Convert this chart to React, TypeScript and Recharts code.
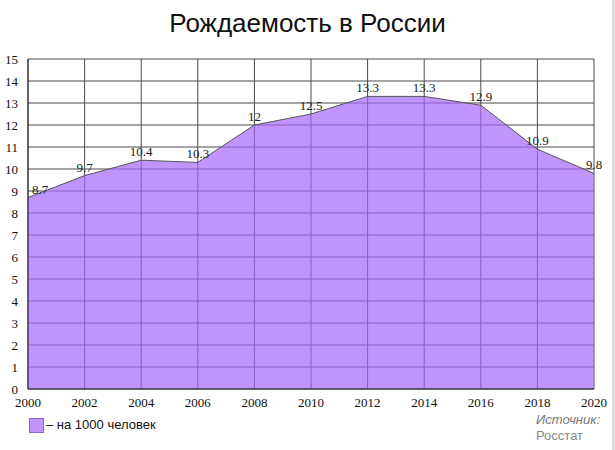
import React from 'react';
import { AreaChart, Area, XAxis, YAxis, CartesianGrid, LabelList } from 'recharts';

const years = ['2000', '2002', '2004', '2006', '2008', '2010', '2012', '2014', '2016', '2018', '2020'];
const birthRate = [8.7, 9.7, 10.4, 10.3, 12, 12.5, 13.3, 13.3, 12.9, 10.9, 9.8];
const yTicks = [0, 1, 2, 3, 4, 5, 6, 7, 8, 9, 10, 11, 12, 13, 14, 15];

const serif = '"Liberation Serif", "Times New Roman", serif';
const sans = '"Liberation Sans", Arial, sans-serif';

const renderValue = (props: any) => {
  const { x, y, value, index } = props;
  // first label sits to the right of the point so it does not hit the axis
  const dx = index === 0 ? 12 : 0;
  return (
    <text x={x + dx} y={y - 4} textAnchor="middle" fontFamily={serif} fontSize={13} fill="#222">
      {value}
    </text>
  );
};

const App: React.FC = () => {
  const data = years.map((year, i) => ({ year, value: birthRate[i] }));

  return (
    <div style={{ position: 'absolute', left: 0, top: 0, width: 615, height: 450, background: '#fff', overflow: 'hidden' }}>
      <div
        style={{
          position: 'absolute',
          top: 8,
          left: 0,
          width: 615,
          textAlign: 'center',
          fontFamily: sans,
          fontSize: 26,
          color: '#111',
        }}
      >
        Рождаемость в России
      </div>

      <AreaChart width={615} height={450} data={data} margin={{ top: 59, right: 21, bottom: 41, left: 0 }}>
        {/* grid sits under the area; the area is semi-transparent so lines show through */}
        <CartesianGrid stroke="#4a4a4a" />
        <XAxis
          dataKey="year"
          height={20}
          tickLine={false}
          axisLine={{ stroke: '#222' }}
          tick={{ fontFamily: serif, fontSize: 13, fill: '#111' }}
          tickMargin={3}
          interval={0}
        />
        <YAxis
          width={28}
          domain={[0, 15]}
          ticks={yTicks}
          interval={0}
          tickLine={false}
          axisLine={{ stroke: '#222' }}
          tick={{ fontFamily: serif, fontSize: 13, fill: '#111' }}
          tickMargin={4}
        />
        <Area
          type="linear"
          dataKey="value"
          stroke="#555"
          strokeWidth={1}
          fill="#a466f9"
          fillOpacity={0.7}
          isAnimationActive={false}
        >
          <LabelList dataKey="value" content={renderValue} />
        </Area>
      </AreaChart>

      <div style={{ position: 'absolute', left: 29, top: 418, width: 13, height: 13, background: '#bf94fb', border: '1px solid #8a66c4' }} />
      <div style={{ position: 'absolute', left: 46, top: 417, fontFamily: sans, fontSize: 13, color: '#111' }}>
        – на 1000 человек
      </div>

      <div style={{ position: 'absolute', left: 536, top: 412, fontFamily: sans, fontSize: 13, color: '#777', lineHeight: '16px' }}>
        <div style={{ fontStyle: 'italic' }}>Источник:</div>
        <div style={{ color: '#888' }}>Росстат</div>
      </div>

      <div style={{ position: 'absolute', left: 612, top: 0, width: 3, height: 450, background: '#ddd' }} />
    </div>
  );
};

export default App;
